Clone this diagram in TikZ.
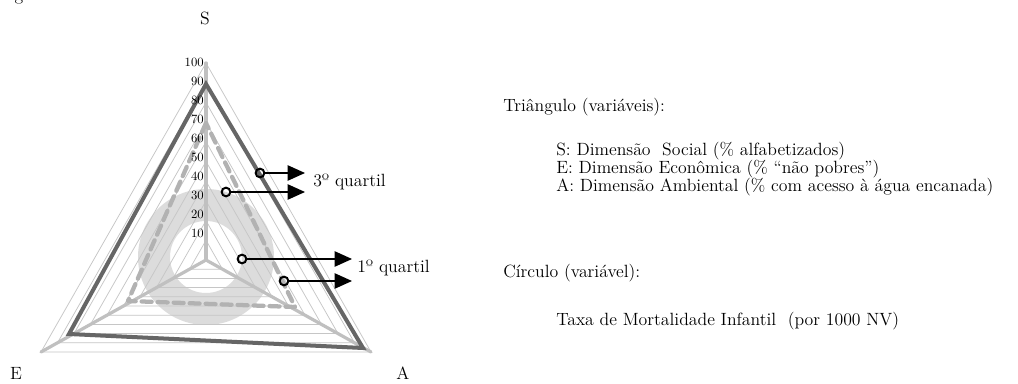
\documentclass[tikz,border=0pt]{standalone}
\usetikzlibrary{arrows.meta}
\definecolor{darkser}{HTML}{666666}
\definecolor{dashgrey}{HTML}{B2B2B2}
\definecolor{spokegrey}{HTML}{C0C0C0}
\definecolor{gridgrey}{HTML}{C6C6C6}
\definecolor{ringgrey}{HTML}{DCDCDC}
\begin{document}
\begin{tikzpicture}[x=0.75pt,y=-0.75pt,
  gridline/.style={draw=gridgrey,line width=0.55pt},
  spokeline/.style={draw=spokegrey,line width=2.4pt,line cap=round},
  dashser/.style={draw=dashgrey,line width=3.2pt,line cap=round,dash pattern=on 7.5pt off 4.5pt,line join=round},
  darkline/.style={draw=darkser,line width=3pt,line join=miter},
  marker/.style={circle,draw=black,line width=1.5pt,inner sep=0pt,minimum size=6.5pt},
  arr/.style={draw=black,line width=1pt,-{Triangle[length=13pt,width=11.5pt]}},
  txt/.style={font=\fontsize{13.3}{15}\selectfont,inner sep=0pt},
  num/.style={font=\fontsize{9.5}{11}\selectfont,inner sep=0pt,anchor=east}]
\clip (0,0) rectangle (1018,384);
\fill[white] (0,0) rectangle (1018,384);
% cut-off caption fragment
\node[txt,anchor=base] (frag) at (19,1) {g};
% ring
\fill[ringgrey,even odd rule] (206,257) circle[radius=51pt] (206,257) circle[radius=27pt];
% grid
\foreach \v in {1,...,10}{
  \draw[gridline] (206,{260-19.7*\v}) -- ({206-16.5*\v},{260+9.2*\v}) -- ({206+16.5*\v},{260+9.2*\v}) -- cycle;
}
\coordinate (O) at (206,260);
\coordinate (Sv) at (206,63);
\coordinate (Ev) at (41,352);
\coordinate (Av) at (371,352);
\draw[spokeline] (O) -- (Sv);
\draw[spokeline] (O) -- (Ev);
\draw[spokeline] (O) -- (Av);
% dashed series
\coordinate (dS) at (206,123);
\coordinate (dE) at (128,301);
\coordinate (dA) at (295,307);
\draw[dashser] (dS) -- (dE) -- (dA) -- cycle;
% dark series
\coordinate (kS) at (206,84);
\coordinate (kE) at (69,334);
\coordinate (kA) at (363,348);
\draw[darkline] (kS) -- (kE) -- (kA) -- cycle;
% scale labels
\foreach \v in {10,20,...,100}{
  \node[num] (n\v) at (204,{252-1.9*\v}) {\v};
}
% axis labels
\node[txt] (S) at (205,18) {S};
\node[txt] (E) at (16,373) {E};
\node[txt] (A) at (403,373) {A};
% markers and arrows
\node[marker] (m1) at (260,173) {};
\node[marker] (m2) at (226,192) {};
\node[marker] (m3) at (242,259) {};
\node[marker] (m4) at (284,281) {};
\coordinate (t1) at (305,173);
\coordinate (t2) at (305,192);
\coordinate (t3) at (352,259);
\coordinate (t4) at (352,281);
\draw[arr] (m1) -- (t1);
\draw[arr] (m2) -- (t2);
\draw[arr] (m3) -- (t3);
\draw[arr] (m4) -- (t4);
\node[txt,anchor=west] (q3) at (313,182) {3º quartil};
\node[txt,anchor=west] (q1) at (357,268) {1º quartil};
% legend
\node[txt,anchor=west] (tri) at (503,107) {Triângulo (variáveis):};
\node[txt,anchor=west] (ls) at (556,151) {S: Dimensão\ \ Social (\% alfabetizados)};
\node[txt,anchor=west] (le) at (556,169) {E: Dimensão Econômica (\% “não pobres”)};
\node[txt,anchor=west] (la) at (556,187.5) {A: Dimensão Ambiental (\% com acesso à água encanada)};
\node[txt,anchor=west] (circ) at (503,273) {Círculo (variável):};
\node[txt,anchor=west] (tmi) at (556,321) {Taxa de Mortalidade Infantil\ \ (por 1000 NV)};
\end{tikzpicture}
\end{document}
